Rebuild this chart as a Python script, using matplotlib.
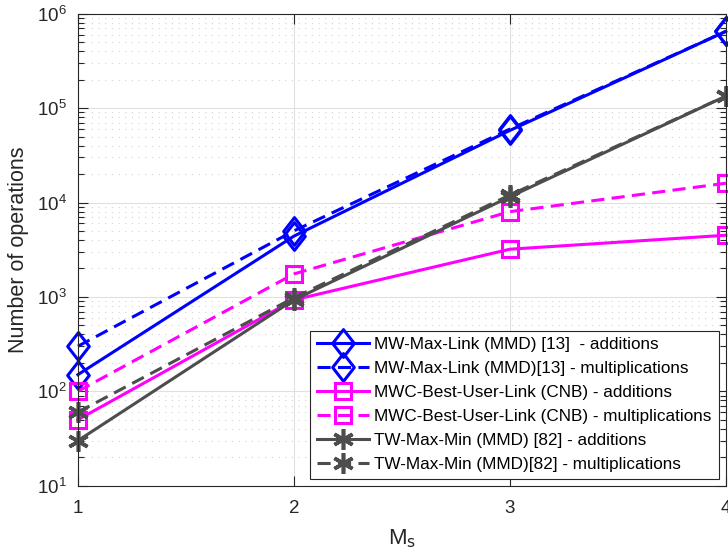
import numpy as np
import matplotlib
matplotlib.use('Agg')
import matplotlib.pyplot as plt
from matplotlib.path import Path
from matplotlib.ticker import LogLocator, NullFormatter

plt.rcParams['font.family'] = ['Liberation Sans', 'DejaVu Sans']
plt.rcParams['mathtext.default'] = 'regular'

# 数据
ms = [1, 2, 3, 4]
mw_add = [150, 4400, 58000, 650000]
mw_mul = [300, 5000, 60000, 650000]
mwc_add = [50, 930, 3200, 4500]
mwc_mul = [100, 1750, 8000, 16000]
tw_add = [30, 930, 11500, 134000]
tw_mul = [60, 980, 12000, 134000]

labels = ['MW-Max-Link (MMD) [13]  - additions',
          'MW-Max-Link (MMD)[13] - multiplications',
          'MWC-Best-User-Link (CNB) - additions',
          'MWC-Best-User-Link (CNB) - multiplications',
          'TW-Max-Min (MMD) [82] - additions',
          'TW-Max-Min (MMD)[82] - multiplications']

blue = '#0000ff'
magenta = '#ff00ff'
gray = '#4d4d4d'
star = (6, 2, 0)
# 略高于宽的菱形
diamond = Path([(0, 1), (0.78, 0), (0, -1), (-0.78, 0), (0, 1)],
               [Path.MOVETO, Path.LINETO, Path.LINETO, Path.LINETO, Path.CLOSEPOLY])

fig = plt.figure(figsize=(7.28, 5.58), dpi=100)
ax = fig.add_axes([0.107, 0.1296, 0.890, 0.8458])

series = [
    (mw_add, blue, '-', diamond, 20),
    (mw_mul, blue, '--', diamond, 20),
    (mwc_add, magenta, '-', 's', 12),
    (mwc_mul, magenta, '--', 's', 12),
    (tw_add, gray, '-', star, 15),
    (tw_mul, gray, '--', star, 15),
]
for (vals, c, ls, mk, msz), lab in zip(series, labels):
    line, = ax.plot(ms, vals, color=c, linestyle=ls, linewidth=2.2, marker=mk,
                    markersize=msz, markerfacecolor='none' if mk is not star else c,
                    markeredgecolor=c, markeredgewidth=2.2 if mk is not star else 2.6,
                    label=lab, clip_on=False)
    if ls == '--':
        line.set_dashes((4.3, 2.4))

ax.set_yscale('log')
ax.set_ylim(10, 1e6)
ax.set_xlim(1, 4)
ax.set_xticks([1, 2, 3, 4])
ax.yaxis.set_major_locator(LogLocator(base=10, numticks=10))
ax.yaxis.set_minor_locator(LogLocator(base=10, subs=np.arange(2, 10), numticks=20))
ax.yaxis.set_minor_formatter(NullFormatter())

ax.grid(True, which='major', color='#e0e0e0', linestyle='-', linewidth=0.8)
ax.grid(True, which='minor', axis='y', color='#d2d2d2', linestyle=(0, (1, 5)), linewidth=0.8)
ax.set_axisbelow(True)

for sp in ax.spines.values():
    sp.set_color('#262626')
    sp.set_linewidth(0.8)
ax.tick_params(which='both', direction='in', top=True, right=True, colors='#262626',
               labelsize=13.5)
ax.tick_params(which='major', length=7, width=0.8)
ax.tick_params(which='minor', length=4, width=0.8)
ax.tick_params(axis='x', pad=10)
ax.tick_params(axis='y', pad=8)

ax.set_xlabel('M$_\\mathrm{s}$', fontsize=16, color='#262626', labelpad=8)
ax.set_ylabel('Number of operations', fontsize=15.5, color='#262626', labelpad=6)

leg = ax.legend(loc='lower right', bbox_to_anchor=(0.989, 0.015), fontsize=12.3,
                frameon=True, fancybox=False, edgecolor='#262626', framealpha=1,
                handlelength=3.0, labelspacing=0.52, borderpad=0.4, handletextpad=0.35,
                borderaxespad=0)
leg.get_frame().set_linewidth(0.8)

plt.savefig('out.png', dpi=100)
